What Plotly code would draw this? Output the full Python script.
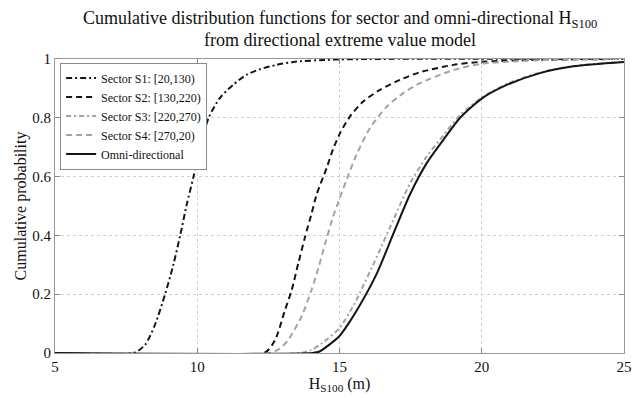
import plotly.graph_objects as go

# ---- data ----
s1_x = [5, 7.75, 8.16, 8.51, 8.87, 9.16, 9.40, 9.63, 9.87, 10.1, 10.40, 10.80, 11.27, 11.74,
        12.2, 12.79, 13.38, 14.5, 16, 25]
s1_y = [0, 0, 0.027, 0.095, 0.2, 0.30, 0.4, 0.505, 0.6, 0.697, 0.8, 0.868, 0.913, 0.947,
        0.965, 0.98, 0.99, 0.997, 1, 1]

s2_x = [5, 12.35, 12.73, 13.08, 13.32, 13.55, 13.79, 14.02, 14.2, 14.55, 14.78, 15.02, 15.37, 15.84,
        16.42, 17.13, 17.83, 19.0, 19.94, 22, 25]
s2_y = [0, 0, 0.043, 0.145, 0.214, 0.305, 0.395, 0.475, 0.54, 0.63, 0.695, 0.748, 0.805, 0.856,
        0.895, 0.929, 0.955, 0.98, 0.99, 0.997, 1]

s3_x = [5, 13.6, 14.0, 14.37, 15.0, 15.54, 15.72, 16.31, 16.89, 17.48, 18.06, 18.65, 19.24, 20.02,
        20.88, 22.05, 23.22, 25]
s3_y = [0, 0, 0.01, 0.032, 0.085, 0.17, 0.205, 0.327, 0.452, 0.577, 0.668, 0.74, 0.81, 0.87,
        0.915, 0.954, 0.976, 0.991]

s4_x = [5, 12.55, 12.9, 13.2, 13.67, 14.02, 14.26, 14.49, 14.78, 15.02, 15.31, 15.6, 16.07, 16.66,
        17.24, 17.83, 19.0, 19.94, 22, 25]
s4_y = [0, 0, 0.015, 0.045, 0.125, 0.215, 0.29, 0.37, 0.465, 0.53, 0.605, 0.675, 0.765, 0.838,
        0.884, 0.918, 0.962, 0.983, 0.996, 1]

om_x = [5, 14.05, 14.3, 14.61, 15.0, 15.35, 15.72, 16.31, 16.89, 17.48, 18.06, 18.65, 19.24, 20.02,
        20.88, 22.05, 23.22, 25]
om_y = [0, 0, 0.005, 0.026, 0.058, 0.105, 0.163, 0.27, 0.405, 0.54, 0.645, 0.725, 0.80, 0.867,
        0.912, 0.952, 0.975, 0.99]

names = ["Sector S1: [20,130)", "Sector S2: [130,220)", "Sector S3: [220,270)",
         "Sector S4: [270,20)", "Omni-directional"]
title_lines = ["Cumulative distribution functions for sector and omni-directional H<sub>S100</sub>",
               "from directional extreme value model"]
x_title = "H<sub>S100</sub> (m)"
y_title = "Cumulative probability"
x_ticks = [5, 10, 15, 20, 25]
y_ticks = [0, 0.2, 0.4, 0.6, 0.8, 1]
y_ticklabels = ["0", "0.2", "0.4", "0.6", "0.8", "1"]

FONT = "Liberation Serif"
BLACK = "#151515"
GRAY = "#a3a3a3"

series = [
    (s1_x, s1_y, BLACK, "6px,3px,2px,3px"),
    (s2_x, s2_y, BLACK, "6px,4px"),
    (s3_x, s3_y, GRAY, "5px,3px,2px,3px"),
    (s4_x, s4_y, GRAY, "6px,4px"),
    (om_x, om_y, BLACK, "solid"),
]

fig = go.Figure()
for (xs, ys, col, dash), nm in zip(series, names):
    fig.add_trace(go.Scatter(
        x=xs, y=ys, mode="lines", name=nm,
        line=dict(color=col, width=2, dash=dash, shape="spline", smoothing=0.7),
    ))

# the page body adds an 8px margin, so the figure is sized to fit the 641x398 window
fig.update_layout(
    width=633, height=390,
    margin=dict(l=47, r=17, t=51, b=45, autoexpand=False),
    paper_bgcolor="white", plot_bgcolor="white",
    font=dict(family=FONT, color="#111111", size=15),
    showlegend=True,
    legend=dict(
        x=0.009, y=0.988, xanchor="left", yanchor="top",
        bgcolor="white", bordercolor="#8a8a8a", borderwidth=1,
        font=dict(family=FONT, size=12, color="#111111"),
        itemwidth=30, tracegroupgap=0,
    ),
)

fig.add_annotation(text=title_lines[0], xref="paper", yref="paper", x=0.5, y=1.135,
                   xanchor="center", yanchor="middle", showarrow=False,
                   font=dict(family=FONT, size=18, color="#111111"))
fig.add_annotation(text=title_lines[1], xref="paper", yref="paper", x=0.5, y=1.066,
                   xanchor="center", yanchor="middle", showarrow=False,
                   font=dict(family=FONT, size=18, color="#111111"))

fig.update_xaxes(
    range=[5, 25], tickvals=x_ticks, ticks="inside", ticklen=5, tickcolor="#888",
    showline=True, linecolor="#999", linewidth=1, mirror="ticks", automargin=False,
    showgrid=True, gridcolor="#cfcfcf", griddash="dot", gridwidth=1, zeroline=False,
    title=dict(text=x_title, font=dict(family=FONT, size=16), standoff=2),
    tickfont=dict(family=FONT, size=15),
)
fig.update_yaxes(
    range=[0, 1], tickvals=y_ticks, ticktext=y_ticklabels, ticks="inside", ticklen=5,
    tickcolor="#888", showline=True, linecolor="#999", linewidth=1, mirror="ticks", automargin=False,
    showgrid=True, gridcolor="#cfcfcf", griddash="dot", gridwidth=1, zeroline=False,
    title=dict(text=y_title, font=dict(family=FONT, size=16), standoff=1),
    tickfont=dict(family=FONT, size=15),
)

fig.write_html("out.html")
